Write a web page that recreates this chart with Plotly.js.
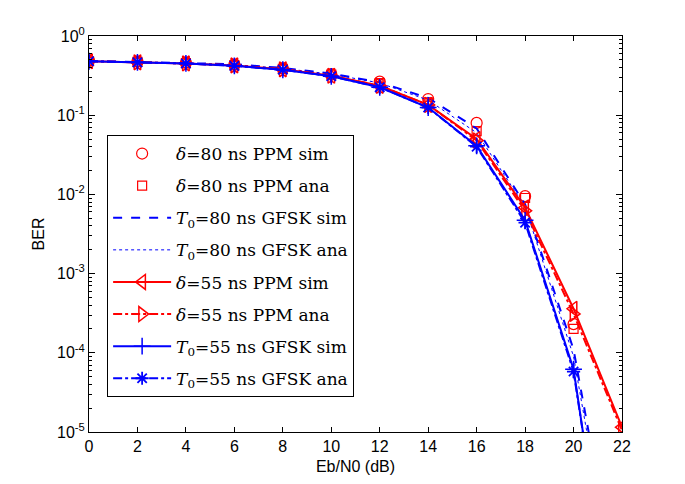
<!DOCTYPE html>
<html>
<head>
<meta charset="utf-8">
<script src="https://cdn.plot.ly/plotly-3.0.1.min.js"></script>
<style>html,body{margin:0;padding:0;background:#fff;}#chart{width:685px;height:484px;}</style>
</head>
<body>
<div id="chart"></div>
<script>
// Eb/N0 (dB)
var ebn0 = [0, 2, 4, 6, 8, 10, 12, 14, 16, 18, 20, 22];
var ebn0Short = [0, 2, 4, 6, 8, 10, 12, 14, 16, 18, 20];

// BER values
var ppm80Sim  = [0.49, 0.475, 0.46, 0.435, 0.39, 0.33, 0.265, 0.16, 0.08, 0.0095, 2.3e-4];
var ppm80Ana  = [0.48, 0.47, 0.455, 0.43, 0.385, 0.325, 0.255, 0.145, 0.063, 0.009, 2.0e-4];
var gfsk80Sim = [0.485, 0.47, 0.46, 0.44, 0.395, 0.335, 0.26, 0.165, 0.068, 0.0075, 1.1e-4, 5e-8];
var gfsk80Ana = [0.485, 0.47, 0.455, 0.435, 0.39, 0.33, 0.255, 0.155, 0.06, 0.007, 9e-5, 3e-8];
var ppm55Sim  = [0.48, 0.465, 0.45, 0.425, 0.38, 0.315, 0.235, 0.135, 0.05, 0.0068, 3.6e-4, 1.15e-5];
var ppm55Ana  = [0.48, 0.465, 0.45, 0.425, 0.38, 0.315, 0.235, 0.135, 0.048, 0.0062, 3.1e-4, 1.05e-5];
var gfsk55Sim = [0.48, 0.465, 0.45, 0.42, 0.375, 0.31, 0.225, 0.125, 0.041, 0.0047, 6.2e-5, 5e-9];
var gfsk55Ana = [0.48, 0.465, 0.45, 0.42, 0.375, 0.31, 0.225, 0.125, 0.04, 0.0044, 5.8e-5, 6e-9];

var seriesNames = [
  '<i>δ</i>=80 ns PPM sim',
  '<i>δ</i>=80 ns PPM ana',
  '<i>T</i><sub>0</sub>=80 ns GFSK sim',
  '<i>T</i><sub>0</sub>=80 ns GFSK ana',
  '<i>δ</i>=55 ns PPM sim',
  '<i>δ</i>=55 ns PPM ana',
  '<i>T</i><sub>0</sub>=55 ns GFSK sim',
  '<i>T</i><sub>0</sub>=55 ns GFSK ana'
];
var xTicks = [0, 2, 4, 6, 8, 10, 12, 14, 16, 18, 20, 22];
var yTickVals = [1e-5, 1e-4, 1e-3, 1e-2, 1e-1, 1];
var yTickText = ['10<sup>-5</sup>', '10<sup>-4</sup>', '10<sup>-3</sup>', '10<sup>-2</sup>', '10<sup>-1</sup>', '10<sup>0</sup>'];

var RED = 'rgb(255,0,0)', BLUE = 'rgb(0,0,255)';

var traces = [
  {x: ebn0Short, y: ppm80Sim, mode: 'markers', name: seriesNames[0],
   marker: {symbol: 'circle-open', size: 11, color: RED, line: {width: 1.2, color: RED}}},
  {x: ebn0Short, y: ppm80Ana, mode: 'markers', name: seriesNames[1],
   marker: {symbol: 'square-open', size: 9, color: RED, line: {width: 1.2, color: RED}}},
  {x: ebn0, y: gfsk80Sim, mode: 'lines', name: seriesNames[2],
   line: {color: BLUE, width: 2, dash: 'dash'}},
  {x: ebn0, y: gfsk80Ana, mode: 'lines', name: seriesNames[3],
   line: {color: BLUE, width: 1, dash: 'dot'}},
  {x: ebn0, y: ppm55Sim, mode: 'lines+markers', name: seriesNames[4],
   line: {color: RED, width: 2}, marker: {symbol: 'triangle-left-open', size: 13, color: RED, line: {width: 1.5, color: RED}}},
  {x: ebn0, y: ppm55Ana, mode: 'lines+markers', name: seriesNames[5],
   line: {color: RED, width: 2, dash: 'dashdot'}, marker: {symbol: 'triangle-right-open', size: 13, color: RED, line: {width: 1.5, color: RED}}},
  {x: ebn0, y: gfsk55Sim, mode: 'lines+markers', name: seriesNames[6],
   line: {color: BLUE, width: 2}, marker: {symbol: 'cross-thin-open', size: 12, color: BLUE, line: {width: 1.5, color: BLUE}}},
  {x: ebn0, y: gfsk55Ana, mode: 'lines+markers', name: seriesNames[7],
   line: {color: BLUE, width: 2, dash: 'dashdot'}, marker: {symbol: 'asterisk-open', size: 11, color: BLUE, line: {width: 1.8, color: BLUE}}}
];
traces.forEach(function (t, i) { t.legendgroup = 'g' + i; t.cliponaxis = true; });

var axisFont = {family: 'Liberation Sans, Arial, sans-serif', size: 16, color: '#000'};

var layout = {
  width: 685, height: 484,
  margin: {l: 89, r: 63, t: 36, b: 52},
  paper_bgcolor: '#fff', plot_bgcolor: '#fff',
  font: axisFont,
  showlegend: true,
  legend: {
    x: 0.034, y: 0.75, xanchor: 'left', yanchor: 'top',
    bgcolor: '#fff', bordercolor: '#000', borderwidth: 1,
    font: {family: 'DejaVu Serif, Liberation Serif, serif', size: 17, color: '#000'},
    traceorder: 'grouped', tracegroupgap: 7, itemwidth: 58
  },
  xaxis: {
    range: [0, 22], tickvals: xTicks, ticks: 'inside', ticklen: 5, tickcolor: '#000',
    showline: true, linecolor: '#000', linewidth: 1, mirror: 'ticks', showgrid: false, zeroline: false,
    tickfont: axisFont,
    title: {text: 'Eb/N0 (dB)', font: axisFont, standoff: 6}
  },
  yaxis: {
    type: 'log', range: [-5, 0], tickvals: yTickVals, ticktext: yTickText,
    ticks: 'inside', ticklen: 6, tickcolor: '#000',
    minor: {ticks: 'inside', ticklen: 3, tickcolor: '#000', dtick: 'D1', showgrid: false},
    showline: true, linecolor: '#000', linewidth: 1, mirror: 'ticks', showgrid: false, zeroline: false,
    tickfont: axisFont,
    title: {text: 'BER', font: axisFont, standoff: 8}
  }
};

Plotly.newPlot('chart', traces, layout, {displayModeBar: false, staticPlot: true});
</script>
</body>
</html>
